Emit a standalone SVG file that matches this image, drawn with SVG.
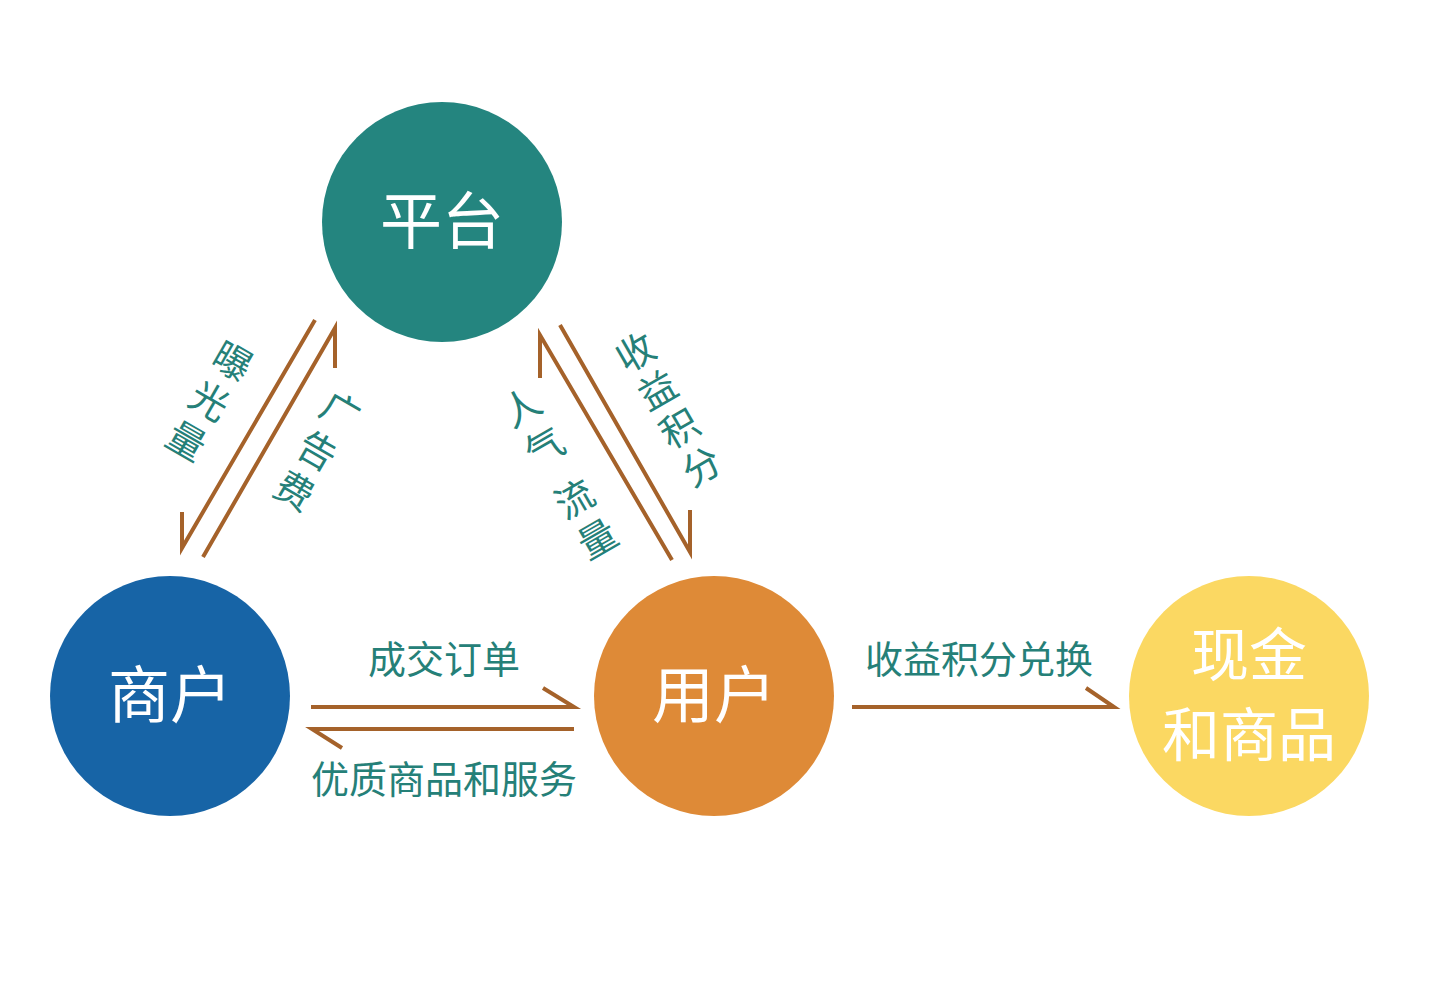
<svg xmlns="http://www.w3.org/2000/svg" width="1429" height="1000" viewBox="0 0 1429 1000">
<style>
.n{fill:#fff;font-family:"Liberation Sans","Noto Sans CJK SC",sans-serif;text-anchor:middle;dominant-baseline:central}
.l{fill:#258078;font-family:"Liberation Sans","Noto Sans CJK SC",sans-serif;font-size:38px;text-anchor:middle;dominant-baseline:central}
.a{fill:none;stroke:#a5622a;stroke-width:4}
</style>
<rect width="1429" height="1000" fill="#fff"/>
<g id="platform"><circle cx="442" cy="222" r="120" fill="#24857f"/><text class="n" x="442" y="222" font-size="62">平台</text></g>
<g id="merchant"><circle cx="170" cy="696" r="120" fill="#1764a6"/><text class="n" x="170" y="696" font-size="62">商户</text></g>
<g id="user"><circle cx="714" cy="696" r="120" fill="#de8a37"/><text class="n" x="714" y="696" font-size="62">用户</text></g>
<g id="cash"><circle cx="1249" cy="696" r="120" fill="#fbd862"/><text class="n" x="1249" y="655" font-size="58">现金</text><text class="n" x="1249" y="735" font-size="58">和商品</text></g>
<g id="connectors">
<path class="a" d="M315,320 L182,548 L182,512"/>
<path class="a" d="M203,557 L335,328 L335,368"/>
<path class="a" d="M672,560 L540,335 L540,378"/>
<path class="a" d="M560,325 L690,552 L690,510"/>
<path class="a" d="M311,707 L574,707 L543,688"/>
<path class="a" d="M574,729 L312,729 L342,748"/>
<path class="a" d="M852,707 L1114,707 L1086,688"/>
</g>
<g id="labels">
<g transform="translate(232,362) rotate(30)"><text class="l" x="0" y="0">曝</text><text class="l" x="0" y="46">光</text><text class="l" x="0" y="92">量</text></g>
<g transform="translate(340,412) rotate(30)"><text class="l" x="0" y="0">广</text><text class="l" x="0" y="46">告</text><text class="l" x="0" y="92">费</text></g>
<g transform="translate(522,408) rotate(-30)"><text class="l" x="0" y="0">人</text><text class="l" x="0" y="46">气</text><text class="l" x="0" y="106">流</text><text class="l" x="0" y="152">量</text></g>
<g transform="translate(636,353) rotate(-30)"><text class="l" x="0" y="0">收</text><text class="l" x="0" y="44">益</text><text class="l" x="0" y="88">积</text><text class="l" x="0" y="132">分</text></g>
<text class="l" x="444" y="660">成交订单</text>
<text class="l" x="444" y="780">优质商品和服务</text>
<text class="l" x="979" y="660">收益积分兑换</text>
</g>
</svg>
